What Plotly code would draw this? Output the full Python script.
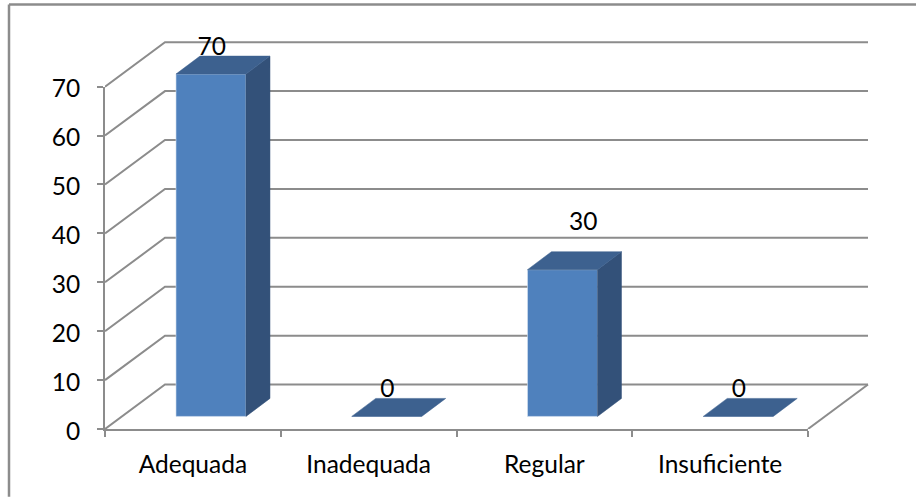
import plotly.graph_objects as go

# Chart values
categories = ["Adequada", "Inadequada", "Regular", "Insuficiente"]
values = [70, 0, 30, 0]
y_ticks = [0, 10, 20, 30, 40, 50, 60, 70]

# Canvas and front-plane geometry, in pixels
W, H = 916, 497
LEFT, RIGHT = 105.0, 808.0
TOP, BOTTOM = 86.7, 429.3
AREA_RIGHT, AREA_TOP = 890.0, 25.0   # room for the receding walls

PX_X = (RIGHT - LEFT) / 4      # pixels per category
PX_Y = (BOTTOM - TOP) / 70     # pixels per value unit

# Oblique projection offsets, in data units
WALL_DX, WALL_DY = 60 / PX_X, 44.5 / PX_Y
BAR_DX, BAR_DY = 24 / PX_X, 18 / PX_Y
BAR_WIDTH = 70 / PX_X
BAR_SHIFT = -16.9 / PX_X       # left edge of a bar relative to the category centre
FLOOR = 12.6 / PX_Y            # lift of the bar base above the front axis
LABEL_LIFT = [7.7, 7.8, 12.0, 7.8]
LABEL_SHIFT = [0, 0, 20 / PX_X, 0]

GRID = "#8C8C8C"
FRONT, TOPFACE, SIDE = "#4F81BD", "#3D618F", "#335179"
FONT = dict(family="Lato, Carlito, sans-serif", size=24.5, color="#000000")

# Receding grid lines: diagonal along the side wall, then along the back wall
grid_x, grid_y = [], []
for v in y_ticks:
    grid_x += [-0.5, -0.5 + WALL_DX, 3.5 + WALL_DX, None]
    grid_y += [v, v + WALL_DY, v + WALL_DY, None]
grid_x += [3.5, 3.5 + WALL_DX]
grid_y += [0, WALL_DY]

fig = go.Figure()

# Front axes: carries the category labels, value ticks and the two axis lines
fig.add_trace(go.Scatter(x=categories, y=values, xaxis="x", yaxis="y", mode="none",
                         hoverinfo="skip"))

# The walls get their own axes so that they stay underneath the columns
fig.add_trace(go.Scatter(
    x=grid_x, y=grid_y, xaxis="x2", yaxis="y2", mode="lines",
    line=dict(color=GRID, width=2), hoverinfo="skip",
))

# Front faces of the columns
fig.add_trace(go.Bar(
    x=list(range(len(values))), y=values, base=FLOOR, width=BAR_WIDTH, offset=BAR_SHIFT,
    xaxis="x3", yaxis="y3",
    marker=dict(color=FRONT, line=dict(color="#DCE6F2", width=0.6)),
    hoverinfo="skip",
))

# Side and top faces
for i, v in enumerate(values):
    x0 = i + BAR_SHIFT
    x1 = x0 + BAR_WIDTH
    y0, y1 = FLOOR, FLOOR + v
    if v > 0:
        fig.add_trace(go.Scatter(
            x=[x1, x1 + BAR_DX, x1 + BAR_DX, x1, x1],
            y=[y0, y0 + BAR_DY, y1 + BAR_DY, y1, y0],
            xaxis="x3", yaxis="y3", mode="lines", fill="toself", fillcolor=SIDE,
            line=dict(color=SIDE, width=0.5), hoverinfo="skip",
        ))
    fig.add_trace(go.Scatter(
        x=[x0, x1, x1 + BAR_DX, x0 + BAR_DX, x0],
        y=[y1, y1, y1 + BAR_DY, y1 + BAR_DY, y1],
        xaxis="x3", yaxis="y3", mode="lines", fill="toself", fillcolor=TOPFACE,
        line=dict(color=TOPFACE, width=0.5), hoverinfo="skip",
    ))

# Value labels
fig.add_trace(go.Scatter(
    x=[i + BAR_SHIFT + BAR_WIDTH / 2 + 0.004 + s for i, s in enumerate(LABEL_SHIFT)],
    y=[v + lift for v, lift in zip(values, LABEL_LIFT)],
    xaxis="x3", yaxis="y3", mode="text", text=[str(v) for v in values],
    textposition="middle center", textfont=FONT, hoverinfo="skip",
))


def paper_x(px):
    return (px - LEFT) / (AREA_RIGHT - LEFT)


def paper_y(py):
    return (BOTTOM - py) / (BOTTOM - AREA_TOP)


# Frame around the chart: only its top and left edges fall on the canvas
frame = dict(color="#8C8C8C", width=2.5)
shapes = [
    dict(type="line", xref="paper", yref="paper", layer="below", line=frame,
         x0=paper_x(9), x1=paper_x(W), y0=paper_y(4.5), y1=paper_y(4.5)),
    dict(type="line", xref="paper", yref="paper", layer="below", line=frame,
         x0=paper_x(9), x1=paper_x(9), y0=paper_y(4.5), y1=paper_y(H)),
]

axis_style = dict(
    showgrid=False, zeroline=False, showline=True, linecolor=GRID, linewidth=2,
    ticks="outside", ticklen=6, tickcolor=GRID, tickwidth=2, tickfont=FONT,
)

depth_x = dict(domain=[0, 1], type="linear", visible=False,
               range=[-0.5, -0.5 + (AREA_RIGHT - LEFT) / PX_X])
depth_y = dict(domain=[0, 1], type="linear", visible=False,
               range=[0, (BOTTOM - AREA_TOP) / PX_Y])

fig.update_layout(
    width=W, height=H, showlegend=False, barmode="overlay",
    paper_bgcolor="#FFFFFF", plot_bgcolor="rgba(0,0,0,0)",
    margin=dict(l=LEFT, r=W - AREA_RIGHT, t=AREA_TOP, b=H - BOTTOM, pad=0, autoexpand=False),
    shapes=shapes,
    xaxis=dict(type="category", categoryorder="array", categoryarray=categories,
               domain=[0, paper_x(RIGHT)], range=[-0.5, 3.5], anchor="y",
               tickson="boundaries", ticklabelstandoff=13, **axis_style),
    yaxis=dict(domain=[0, paper_y(TOP)], range=[0, 70], anchor="x", tickvals=y_ticks,
               ticklabelstandoff=12, ticklabelshift=2, **axis_style),
    xaxis2=dict(anchor="y2", **depth_x),
    yaxis2=dict(anchor="x2", **depth_y),
    xaxis3=dict(anchor="y3", **depth_x),
    yaxis3=dict(anchor="x3", **depth_y),
)

fig.write_html("out.html", config=dict(displayModeBar=False))
